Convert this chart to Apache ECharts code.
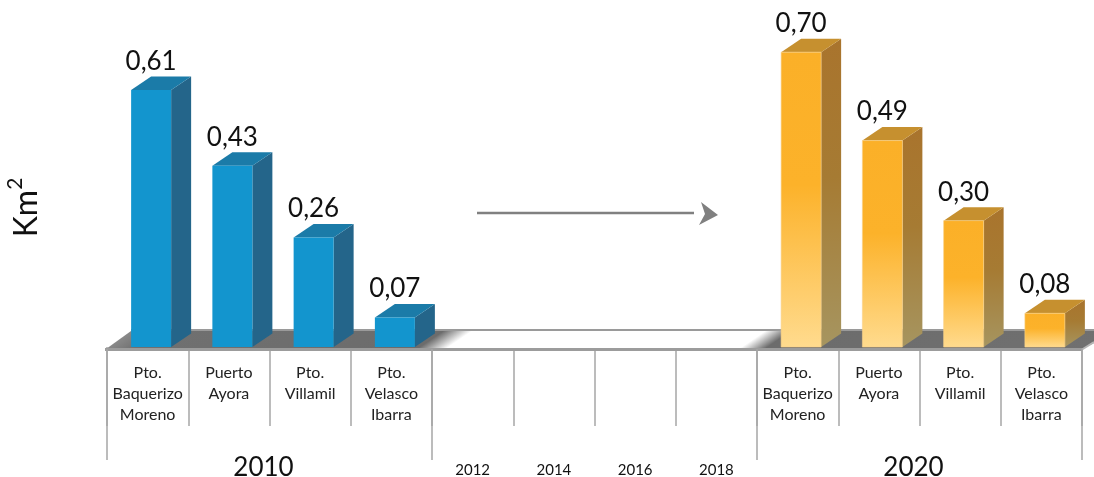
<!DOCTYPE html>
<html>
<head>
<meta charset="utf-8">
<title>Km2 2010 - 2020</title>
<script src="https://cdn.jsdelivr.net/npm/echarts@6/dist/echarts.min.js"></script>
<style>
    html, body { margin: 0; padding: 0; background: #fff; }
    #main { width: 1094px; height: 477px; }
</style>
</head>
<body>
<div id="main"></div>
<script>
var categories = [
    'Pto.\nBaquerizo\nMoreno', 'Puerto\nAyora', 'Pto.\nVillamil', 'Pto.\nVelasco\nIbarra',
    '', '', '', '',
    'Pto.\nBaquerizo\nMoreno', 'Puerto\nAyora', 'Pto.\nVillamil', 'Pto.\nVelasco\nIbarra'
];
var values2010 = [0.61, 0.43, 0.26, 0.07];
var values2020 = [0.70, 0.49, 0.30, 0.08];
var index2010 = [0, 1, 2, 3];
var index2020 = [8, 9, 10, 11];
var yearLabels = ['2010', '2012', '2014', '2016', '2018', '2020'];
var yearFirst = [0, 4, 5, 6, 7, 8];
var yearLast = [3, 4, 5, 6, 7, 11];
var groupEdges = [0, 4, 8, 12];

var font = 'Lato, "Noto Sans", sans-serif';
var barW = 40, depthX = 20, depthY = 13.5;

function toRows(index, values) {
    var rows = [];
    for (var i = 0; i < values.length; i++) {
        rows.push([index[i], values[i]]);
    }
    return rows;
}

function grad(a, b, c) {
    return {
        type: 'linear', x: 0, y: 0, x2: 0, y2: 1,
        colorStops: [{offset: 0, color: a}, {offset: 0.45, color: b}, {offset: 1, color: c}]
    };
}

// dibuja una barra 3D: cara frontal, lateral, tapa y etiqueta
function barRender(front, side, top, edge) {
    return function (params, api) {
        var p = api.coord([api.value(0), api.value(1)]);
        var base = api.coord([api.value(0), 0]);
        var x = p[0] - 16.5, y = p[1], y0 = base[1];
        return {
            type: 'group',
            children: [{
                type: 'polygon',
                shape: {points: [[x + barW, y], [x + barW + depthX, y - depthY], [x + barW + depthX, y0 - depthY], [x + barW, y0]]},
                style: {fill: side}
            }, {
                type: 'polygon',
                shape: {points: [[x, y], [x + depthX, y - depthY], [x + barW + depthX, y - depthY], [x + barW, y]]},
                style: {fill: top}
            }, {
                type: 'rect',
                shape: {x: x, y: y, width: barW, height: y0 - y},
                style: {fill: front, stroke: edge, lineWidth: edge ? 0.6 : 0}
            }, {
                type: 'text',
                style: {
                    x: x + barW / 2, y: y - depthY - 15,
                    text: String(api.value(1).toFixed(2)).replace('.', ','),
                    align: 'center', verticalAlign: 'middle',
                    font: '26px ' + font, fill: '#111'
                }
            }]
        };
    };
}

// plataforma gris del piso
function floorRender(params, api) {
    var c = params.coordSys;
    var left = c.x, right = c.x + c.width, y0 = c.y + c.height;
    return {
        type: 'group',
        children: [{
            type: 'polygon',
            shape: {points: [[left - 1, y0 + 2], [left + 24, y0 - 16], [1094, y0 - 16], [1094, y0 - 4], [right, y0 + 2]]},
            style: {
                fill: {
                    // degradado inclinado igual que el borde del piso
                    type: 'linear', global: true, x: left, y: y0, x2: left + 312, y2: y0 + 459,
                    colorStops: [
                        {offset: 0, color: '#8a8a8a'},
                        {offset: 0.03, color: '#707070'},
                        {offset: 0.317, color: '#6c6c6c'},
                        {offset: 0.346, color: '#ffffff'},
                        {offset: 0.643, color: '#ffffff'},
                        {offset: 0.669, color: '#6c6c6c'},
                        {offset: 1, color: '#707070'}
                    ]
                }
            }
        }, {
            type: 'line',
            shape: {x1: left + 24, y1: y0 - 17, x2: 1094, y2: y0 - 17},
            style: {stroke: '#9a9a9a', lineWidth: 2}
        }, {
            type: 'line',
            shape: {x1: left - 2, y1: y0 + 2.5, x2: right, y2: y0 + 2.5},
            style: {stroke: '#9c9c9c', lineWidth: 3}
        }, {
            type: 'line',
            shape: {x1: right, y1: y0 + 2.5, x2: 1094, y2: y0 - 5},
            style: {stroke: '#b5b5b5', lineWidth: 2}
        }]
    };
}

// lineas largas que separan 2010 / anos intermedios / 2020
function edgeRender(params, api) {
    var band = api.size([1, 0])[0];
    var first = api.coord([0, 0]);
    var x = first[0] - band / 2 + api.value(0) * band;
    return {
        type: 'line',
        shape: {x1: x, y1: first[1] + 2, x2: x, y2: first[1] + 113},
        style: {stroke: '#a6a6a6', lineWidth: 1.5}
    };
}

function yearRender(params, api) {
    var i = params.dataIndex;
    var a = api.coord([yearFirst[i], 0]);
    var b = api.coord([yearLast[i], 0]);
    var big = yearFirst[i] !== yearLast[i];
    return {
        type: 'text',
        style: {
            x: (a[0] + b[0]) / 2 + (big ? -6 : 0),
            y: a[1] + (big ? 121 : 123),
            text: yearLabels[i],
            align: 'center', verticalAlign: 'middle',
            font: (big ? '26px ' : '15px ') + font, fill: '#111'
        }
    };
}

var myChart = echarts.init(document.getElementById('main'));
var option = {
    animation: false,
    backgroundColor: '#fff',
    grid: {left: 107, right: 12, top: 10, bottom: 130, outerBoundsMode: 'none'},
    xAxis: {
        type: 'category',
        data: categories,
        axisLine: {show: false},
        axisTick: {show: true, interval: 0, length: 79, lineStyle: {color: '#a6a6a6', width: 1.5}},
        axisLabel: {interval: 0, margin: 15, fontSize: 16, lineHeight: 21, color: '#222', fontFamily: font}
    },
    yAxis: {
        type: 'value',
        min: 0,
        max: 0.8,
        axisLine: {show: false},
        axisTick: {show: false},
        axisLabel: {show: false},
        splitLine: {show: false},
        name: '{km|Km}{sup|2}',
        nameLocation: 'middle',
        nameGap: 64,
        nameRotate: 90,
        nameTextStyle: {
            color: '#111',
            fontFamily: font,
            padding: [0, 58, 0, 0],
            rich: {
                km: {fontSize: 32, color: '#111', fontFamily: font, verticalAlign: 'bottom', lineHeight: 38},
                sup: {fontSize: 21, color: '#111', fontFamily: font, verticalAlign: 'top', lineHeight: 38}
            }
        }
    },
    graphic: [{
        type: 'line',
        shape: {x1: 477, y1: 213, x2: 694, y2: 213},
        style: {stroke: '#808080', lineWidth: 2.5}
    }, {
        type: 'polygon',
        shape: {points: [[701, 202], [718, 215], [699, 225], [705, 214]]},
        style: {fill: '#808080'}
    }],
    series: [{
        type: 'custom',
        name: 'piso',
        coordinateSystem: 'cartesian2d',
        renderItem: floorRender,
        data: [[0, 0]],
        silent: true,
        z: 1
    }, {
        type: 'custom',
        name: 'separadores',
        coordinateSystem: 'cartesian2d',
        renderItem: edgeRender,
        data: groupEdges.map(function (e) { return [e, 0]; }),
        silent: true,
        z: 1
    }, {
        type: 'custom',
        name: 'anos',
        coordinateSystem: 'cartesian2d',
        renderItem: yearRender,
        data: yearLabels.map(function (y, i) { return [yearFirst[i], 0]; }),
        silent: true,
        z: 1
    }, {
        type: 'custom',
        name: '2010',
        coordinateSystem: 'cartesian2d',
        renderItem: barRender('#1395CE', '#24658A', '#1B7BA8', null),
        data: toRows(index2010, values2010),
        z: 2
    }, {
        type: 'custom',
        name: '2020',
        coordinateSystem: 'cartesian2d',
        renderItem: barRender(
            grad('#FBB028', '#FCB22A', '#FFDB8E'),
            grad('#A9742D', '#A67B33', '#A69560'),
            '#C6902F',
            '#F8D28A'
        ),
        data: toRows(index2020, values2020),
        z: 2
    }]
};
myChart.setOption(option);
</script>
</body>
</html>
